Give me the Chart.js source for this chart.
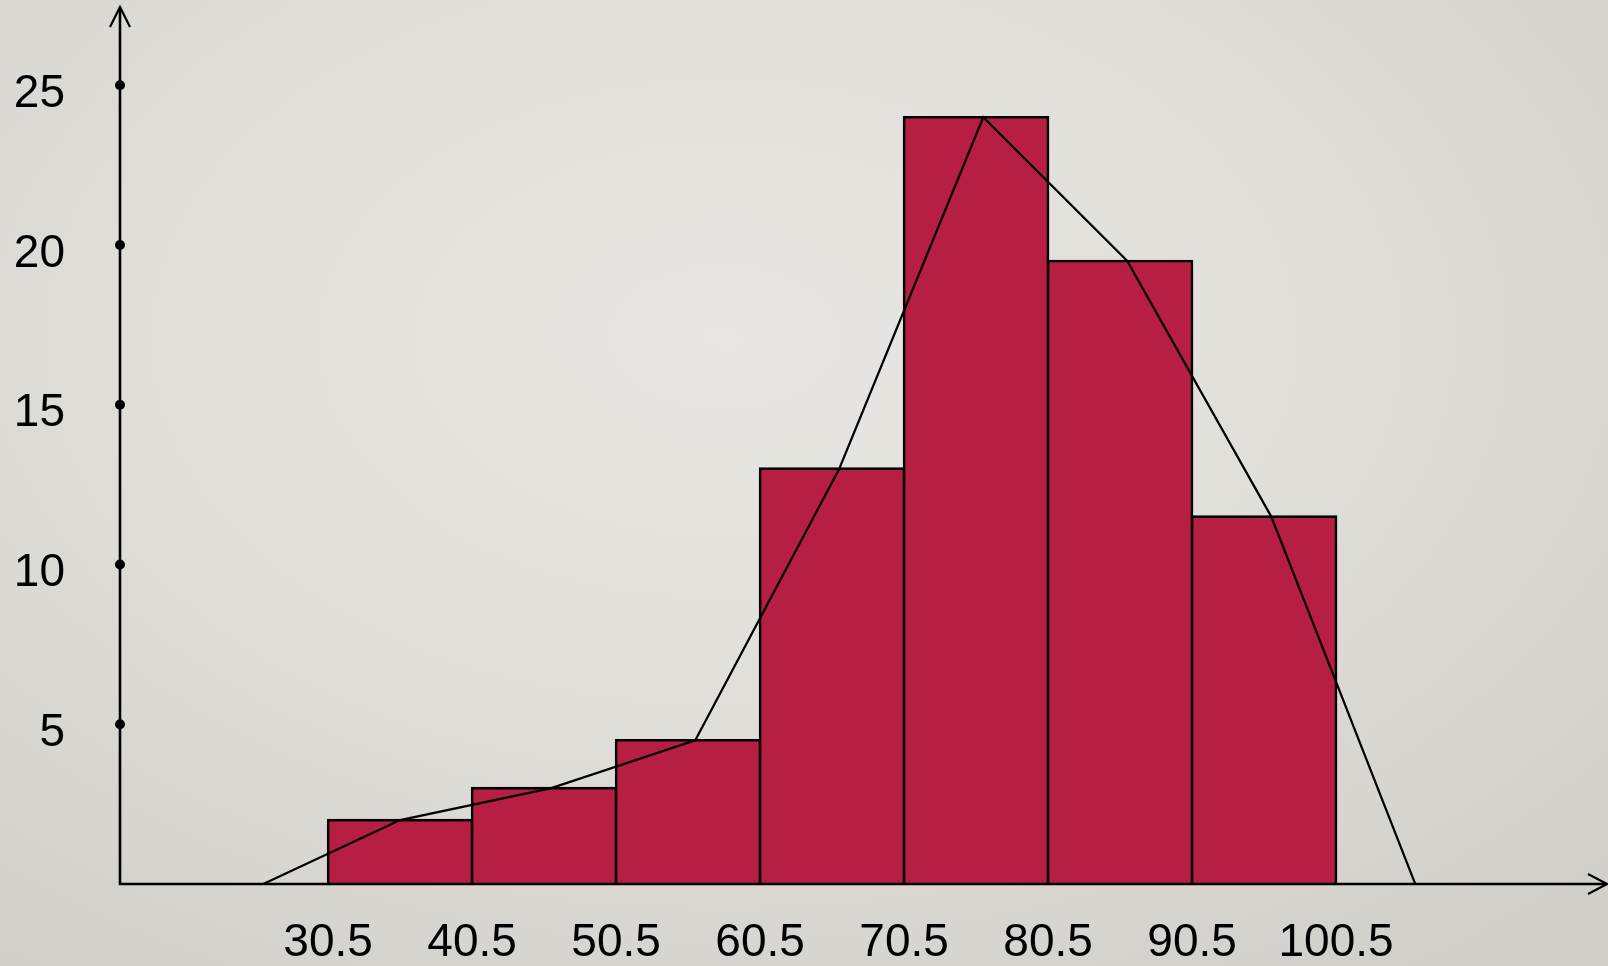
<!DOCTYPE html>
<html>
<head>
<meta charset="utf-8">
<script src="https://cdn.jsdelivr.net/npm/chart.js@4/dist/chart.umd.min.js"></script>
<style>
  html, body { margin: 0; padding: 0; width: 1608px; height: 966px; overflow: hidden; }
  body {
    background: radial-gradient(ellipse 75% 80% at 45% 35%, #E8E6E2 0%, #E1DFDA 45%, #D8D5D0 80%, #D2CFCA 100%);
  }
  #wrap { position: absolute; left: 0; top: 0; width: 1608px; height: 966px; }
</style>
</head>
<body>
<div id="wrap"><canvas id="hist" width="1608" height="966"></canvas></div>
<script>
// Class boundaries shown on the horizontal axis
const classBounds = [30.5, 40.5, 50.5, 60.5, 70.5, 80.5, 90.5, 100.5];
// Class midpoints and frequencies for the histogram bars
const classMidpoints = [35.5, 45.5, 55.5, 65.5, 75.5, 85.5, 95.5];
const frequencies = [2, 3, 4.5, 13, 24, 19.5, 11.5];
// Frequency polygon vertices (closed with empty classes at both ends)
const polygonX = [26, 35.5, 46, 56, 66, 76, 86, 96, 106];
const polygonY = [0, 2, 3, 4.5, 13, 24, 19.5, 11.5, 0];
// Labelled frequency ticks
const yTickValues = [5, 10, 15, 20, 25];

const FONT = "'Liberation Sans', Arial, sans-serif";

// Axis lines with open arrowheads, and dots at the frequency ticks
const axesPlugin = {
  id: 'arrowAxes',
  afterDraw(chart) {
    const { ctx, chartArea, scales } = chart;
    const x0 = chartArea.left, y0 = chartArea.bottom;
    const xEnd = chartArea.right + 7, yEnd = chartArea.top;
    ctx.save();
    ctx.strokeStyle = '#000';
    ctx.fillStyle = '#000';
    ctx.lineWidth = 2.6;
    ctx.lineCap = 'butt';
    ctx.beginPath();
    ctx.moveTo(x0, y0);
    ctx.lineTo(x0, yEnd);
    ctx.moveTo(x0 - 1.3, y0);
    ctx.lineTo(xEnd, y0);
    ctx.stroke();
    ctx.lineWidth = 2.2;
    ctx.beginPath();
    ctx.moveTo(x0 - 10, yEnd + 20);
    ctx.lineTo(x0, yEnd);
    ctx.lineTo(x0 + 10, yEnd + 20);
    ctx.moveTo(xEnd - 19, y0 - 10);
    ctx.lineTo(xEnd, y0);
    ctx.lineTo(xEnd - 19, y0 + 10);
    ctx.stroke();
    yTickValues.forEach(v => {
      const py = scales.y.getPixelForValue(v);
      ctx.beginPath();
      ctx.arc(x0, py, 5, 0, Math.PI * 2);
      ctx.fill();
    });
    ctx.restore();
  }
};

// Keep the plot area fixed: no extra label padding at the axis ends
function clearEndPadding(scale) {
  scale.paddingTop = 0;
  scale.paddingBottom = 0;
  scale.paddingLeft = 0;
  scale.paddingRight = 0;
}

new Chart(document.getElementById('hist'), {
  type: 'bar',
  data: {
    datasets: [
      {
        type: 'line',
        data: polygonX.map((x, i) => ({ x, y: polygonY[i] })),
        borderColor: '#000',
        borderWidth: 2.2,
        pointRadius: 0,
        tension: 0,
        fill: false,
        order: 0
      },
      {
        type: 'bar',
        data: classMidpoints.map((x, i) => ({ x, y: frequencies[i] })),
        backgroundColor: '#B71E43',
        borderColor: '#000',
        borderWidth: 2.6,
        inflateAmount: 1.3,
        borderSkipped: 'start',
        barPercentage: 1,
        categoryPercentage: 1,
        order: 1
      }
    ]
  },
  options: {
    responsive: false,
    animation: false,
    events: [],
    layout: { padding: { top: 7, right: 8, bottom: 0, left: 0 } },
    plugins: {
      legend: { display: false },
      tooltip: { enabled: false },
      title: { display: false }
    },
    scales: {
      x: {
        type: 'linear',
        offset: false,
        min: 16.05,
        max: 118.83,
        grid: { display: false, drawTicks: false },
        border: { display: false },
        afterBuildTicks(scale) {
          scale.ticks = classBounds.map(v => ({ value: v }));
        },
        afterFit(scale) { scale.height = 82; clearEndPadding(scale); },
        ticks: {
          autoSkip: false,
          maxRotation: 0,
          padding: 32,
          color: '#000',
          font: { family: FONT, size: 46 },
          callback: v => String(v)
        }
      },
      y: {
        type: 'linear',
        min: 0,
        max: 27.45,
        grid: { display: false, drawTicks: false },
        border: { display: false },
        afterBuildTicks(scale) {
          scale.ticks = yTickValues.map(v => ({ value: v }));
        },
        afterFit(scale) { scale.width = 120; clearEndPadding(scale); },
        ticks: {
          padding: 55,
          labelOffset: 9,
          color: '#000',
          font: { family: FONT, size: 46 },
          callback: v => String(v)
        }
      }
    }
  },
  plugins: [axesPlugin]
});
</script>
</body>
</html>
